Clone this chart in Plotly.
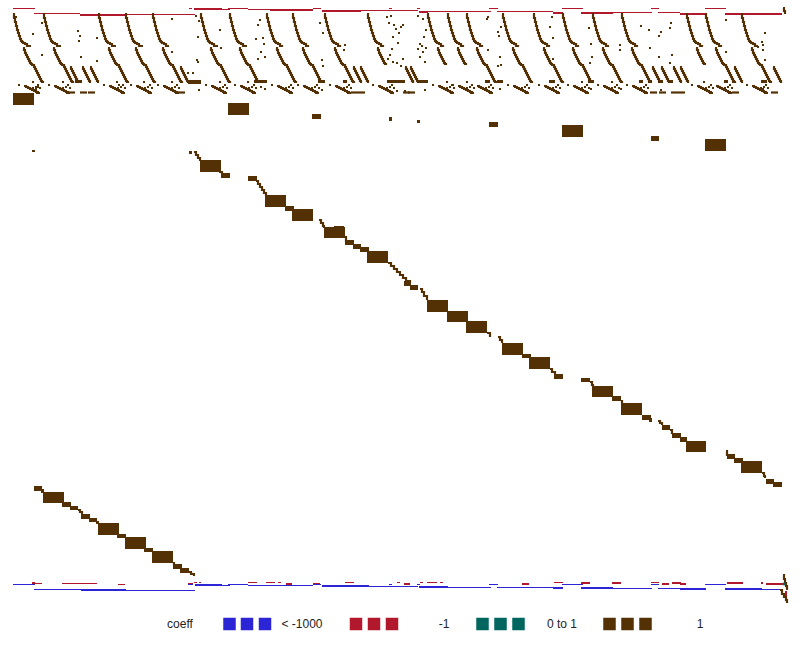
import plotly.graph_objects as go

BROWN = "#543005"
RED = "#B2182B"
TEAL = "#01665E"
BLUE = "#2B25D6"

# red and blue coefficient runs: start col, end col, row, thickness
red_x0 = [13, 34, 80, 126, 189, 194, 222, 228, 248, 270, 313, 322, 361, 389, 417, 419, 428, 489, 497, 553, 562, 581, 613, 651, 658, 680, 705, 725, 762,
          32, 34, 62, 118, 188, 194, 199, 248, 266, 278, 286, 313, 345, 397, 404, 420, 427, 440, 522, 554, 581, 612, 651, 662, 672, 680, 727, 761, 766, 773, 785]
red_x1 = [35, 80, 126, 195, 192, 222, 230, 248, 270, 313, 321, 361, 418, 392, 420, 428, 491, 498, 553, 563, 583, 613, 652, 659, 680, 706, 726, 762, 782,
          35, 42, 97, 125, 193, 197, 201, 257, 275, 281, 292, 320, 354, 400, 410, 423, 437, 443, 529, 563, 590, 621, 659, 669, 681, 686, 743, 763, 773, 783, 787]
red_y = [8, 13, 13.5, 14, 8, 8, 9, 8, 9, 9.5, 8, 9.5, 10, 8, 8, 10.5, 11, 8, 11, 11.5, 8, 11.5, 12, 8, 12, 12.5, 8, 12.5, 13.5,
         581.5, 583, 583, 584, 583, 582, 582, 582, 582, 582, 583, 583, 582, 582, 583, 582, 582, 582, 583, 582, 582, 582, 582, 583, 582, 583, 582, 582, 583, 583.5, 591]
red_h = [1, 1, 2, 1, 1, 2, 1, 1, 1, 1, 1, 2, 1, 1, 1, 2, 1, 1, 1, 2, 1, 2, 1, 1, 1, 2, 1, 2, 1,
         2, 1, 1, 1, 1, 1, 1, 1, 1, 1, 2, 1, 1, 1, 2, 1, 1, 1, 2, 1, 2, 2, 1, 2, 2, 2, 2, 2, 2, 1, 6]

blue_x0 = [13, 34, 81, 126, 188, 195, 222, 228, 248, 313, 322, 369, 389, 417, 419, 448, 489, 497, 553, 562, 581, 613, 651, 658, 680, 705, 725, 762]
blue_x1 = [35, 81, 126, 195, 193, 222, 230, 248, 313, 321, 369, 418, 392, 420, 448, 491, 498, 553, 563, 583, 613, 652, 659, 680, 706, 726, 762, 782]
blue_y = [584, 589, 589, 590, 584, 584, 585, 584, 585, 584, 585, 586, 584, 584, 586, 587, 584, 587, 587, 584, 587, 588, 584, 588, 588, 584, 588, 589]
blue_h = [1, 1, 2, 1, 1, 2, 1, 1, 1, 1, 2, 1, 1, 1, 2, 1, 1, 1, 2, 1, 2, 1, 1, 1, 2, 1, 2, 1]

# solid blocks of ones
block_x0 = [13, 228, 312, 389, 417, 489, 562, 651, 705, 32, 189,
            200, 221, 248, 265, 285, 292, 324, 334, 345, 353, 360, 367, 404, 410,
            427, 447, 466, 502, 522, 529, 554, 581, 592, 612, 621, 642, 649,
            662, 672, 680, 686, 727, 734, 741, 766, 773,
            34, 41, 43, 62, 70, 81, 89, 96, 98, 117, 125, 144, 152, 173, 180,
            188, 75, 254, 318, 343, 387, 417, 485, 497, 549, 588, 639, 648, 658, 669, 724, 761]
block_x1 = [34, 249, 321, 392, 420, 498, 583, 659, 726, 35, 192,
            221, 230, 257, 286, 294, 313, 345, 344, 354, 361, 369, 388, 411, 418,
            448, 468, 487, 523, 531, 550, 563, 590, 613, 621, 642, 651, 652,
            670, 681, 687, 706, 735, 743, 762, 774, 782,
            42, 44, 64, 71, 78, 90, 97, 99, 119, 126, 146, 153, 173, 182, 189,
            201, 82, 267, 325, 347, 405, 428, 490, 503, 555, 594, 643, 652, 663, 673, 728, 767]
block_y0 = [93, 103, 114, 117, 120, 122, 125, 136, 139, 150, 151,
            160, 173, 176, 195, 206, 209, 227, 226, 240, 244, 247, 251, 281, 285,
            300, 311, 321, 343, 354, 357, 374, 378, 386, 396, 403, 415, 418,
            425, 433, 437, 441, 454, 458, 461, 479, 482,
            486, 489, 492, 502, 506, 514, 518, 521, 523, 534, 537, 548, 551, 564, 568,
            80, 80, 80, 80, 80, 80, 80, 80, 80, 80, 80, 80, 80, 80, 80, 80, 80]
block_y1 = [105, 115, 119, 121, 123, 127, 137, 141, 151, 152, 154,
            172, 178, 181, 207, 211, 221, 238, 228, 245, 249, 252, 263, 286, 290,
            312, 322, 333, 355, 358, 369, 379, 382, 397, 401, 415, 420, 422,
            430, 438, 442, 452, 459, 463, 473, 484, 487,
            491, 493, 503, 507, 510, 519, 522, 524, 535, 538, 549, 552, 563, 569, 573,
            84, 83, 83, 83, 83, 83, 83, 83, 83, 83, 83, 83, 83, 83, 83, 83, 83]

# short chains between the blocks, stepped
chain_x = [[194, 196, 198, 200], [219, 222], [256, 258, 260, 262, 264, 266], [319, 321, 323, 324], [344, 346],
           [388, 391, 394, 397, 400, 403, 406, 410], [420, 422, 424, 427], [487, 490], [498, 500, 502],
           [550, 552, 555], [590, 592, 593], [621, 622], [658, 660, 662], [670, 672], [726, 727], [762, 764, 765],
           [78, 80, 82], [173, 174], [189, 191, 194], [783, 784, 785], [783, 784, 785, 786, 787], [780, 782, 784, 786, 787]]
chain_y = [[152, 155, 158, 161], [172, 174], [181, 184, 187, 190, 193, 196], [220, 223, 226, 228], [237, 242],
           [263, 266, 269, 272, 275, 278, 281, 283], [289, 292, 296, 300], [333, 337], [337, 340, 343],
           [369, 372, 374], [382, 385, 387], [401, 403], [421, 423, 425], [430, 434], [451, 456], [473, 476, 478],
           [510, 512, 514], [563, 566], [572, 574, 576], [8, 11, 14], [575, 579, 583, 586, 590], [590, 594, 597, 600, 603]]

# the repeating columns in the top band
motif_cols = [13, 43, 98, 125, 152, 200, 229, 266, 292, 324, 367, 427, 447, 466, 502, 533, 562, 592, 621, 686, 705, 741]
short_motifs = [367, 427, 447, 686]
extra_legs = [70, 82, 90, 180, 353, 360, 405, 410, 652, 661, 673, 680, 734, 773]
upper_dx = [0, 1, 2, 3, 4, 5, 6, 7, 8, 9, 10, 12, 14, 16]
upper_y = [14, 18, 22, 26, 30, 33, 36, 39, 41, 42, 43, 44, 46, 47]
lower_dx = [10, 11, 12, 13, 14, 15, 16, 17, 18, 19, 21, 22, 23, 24, 25, 26, 27, 28, 29, 30]
lower_y = [48, 50, 53, 55, 57, 59, 61, 63, 64, 65, 67, 69, 71, 73, 75, 77, 79, 81, 82, 83]
leg_dx = [0, 1, 2, 3, 4, 5, 6, 7, 8]
leg_y = [67, 69, 71, 73, 75, 77, 79, 81, 83]
base_dx = [11, 13, 15, 17, 19, 21, 23, 25, 27]
base_y = [86, 87, 88, 89, 90, 91, 92, 93, 93]
small_dx = [6, 23, 25, 27, 20, 24]
small_y = [85, 87, 85, 88, 88, 93]

# scattered single entries in the top band
dot_x = [16, 33, 30, 42, 33, 42, 19, 38, 36, 42, 63, 60, 78, 80, 79, 97, 81, 97, 115, 117, 119, 142, 144, 172, 168, 172, 172, 197, 198, 198, 199, 196,
         188, 193, 199, 220, 217, 221, 220, 246, 248, 260, 258, 256, 263, 264, 261, 258, 265, 261, 265,
         320, 323, 345, 344, 322, 323, 322, 345, 387, 391, 389, 394, 403, 401, 396, 399, 393, 398, 392, 390, 388, 393, 397, 403, 401,
         418, 423, 426, 424, 420, 422, 418, 423, 426, 420, 425, 447, 467, 488, 487, 501, 498, 499, 488, 500, 501, 498, 500, 425, 397, 405,
         552, 550, 553, 553, 589, 591, 592, 590, 582, 591, 620, 620, 612, 649, 641, 671, 670, 661, 659, 650, 672, 659, 670, 726, 765, 762, 763, 763, 758, 726, 765, 704, 733, 621, 661, 763]
dot_y = [17, 34, 46, 55, 82, 82, 85, 87, 89, 23, 82, 46, 31, 36, 41, 38, 57, 61, 46, 82, 85, 46, 82, 19, 46, 52, 82, 60, 62, 37, 21, 16,
         73, 73, 90, 30, 46, 48, 82, 46, 82, 20, 25, 39, 38, 44, 52, 59, 57, 87, 89,
         23, 33, 45, 50, 60, 66, 90, 82, 17, 16, 23, 25, 25, 27, 29, 33, 37, 43, 49, 55, 59, 62, 63, 59, 66,
         16, 19, 30, 37, 44, 46, 49, 52, 48, 57, 62, 82, 82, 17, 19, 27, 32, 36, 50, 57, 65, 66, 89, 90, 91, 91,
         17, 27, 38, 59, 28, 44, 57, 63, 82, 89, 45, 50, 82, 30, 26, 23, 28, 32, 36, 48, 55, 57, 63, 20, 33, 42, 45, 50, 47, 52, 60, 82, 82, 89, 90, 89]

legend_labels = ["coeff", "< -1000", "-1", "0 to 1", "1"]
legend_label_x = [180, 302, 444, 562, 700]
legend_colors = [BLUE, RED, TEAL, BROWN]
legend_swatch_x = [[229.5, 247, 265], [356, 374, 392], [482.5, 500.5, 518.5], [609.5, 627.5, 645.5]]


def add_rects(fig, x0, x1, y0, y1, color):
    fig.add_trace(go.Bar(
        x=[(a + b) / 2 for a, b in zip(x0, x1)],
        width=[b - a for a, b in zip(x0, x1)],
        base=y0,
        y=[b - a for a, b in zip(y0, y1)],
        marker=dict(color=color, line=dict(width=0)),
    ))


def add_chain(fig, x, y):
    fig.add_trace(go.Scatter(x=x, y=y, mode="lines", line=dict(color=BROWN, width=2.2, shape="hv")))


def add_dots(fig, xs, ys):
    add_rects(fig, [x - 1.3 for x in xs], [x + 1.3 for x in xs],
              [y - 1.3 for y in ys], [y + 1.3 for y in ys], BROWN)


fig = go.Figure()
add_rects(fig, block_x0, block_x1, block_y0, block_y1, BROWN)
add_rects(fig, red_x0, red_x1, red_y, [a + b for a, b in zip(red_y, red_h)], RED)
add_rects(fig, blue_x0, blue_x1, blue_y, [a + b for a, b in zip(blue_y, blue_h)], BLUE)

for x, y in zip(chain_x, chain_y):
    add_chain(fig, x, y)

for col in motif_cols:
    add_chain(fig, [col + d for d in upper_dx], upper_y)
    if col in short_motifs:
        add_chain(fig, [col + d for d in lower_dx[:10]], lower_y[:10])
    else:
        add_chain(fig, [col + d for d in lower_dx], lower_y)
    add_chain(fig, [col + d for d in base_dx], base_y)
    add_dots(fig, [col + d for d in small_dx], small_y)

for col in extra_legs:
    add_chain(fig, [col + d for d in leg_dx], leg_y)
    add_chain(fig, [col - 2, col + 5], [92.5, 92.5])

add_dots(fig, dot_x, dot_y)
fig.add_trace(go.Scatter(x=[784], y=[584], mode="markers",
                         marker=dict(symbol="square", size=2.5, color=TEAL, line=dict(width=0))))

# legend row
for color, xs in zip(legend_colors, legend_swatch_x):
    fig.add_trace(go.Scatter(x=xs, y=[624] * len(xs), mode="markers",
                             marker=dict(symbol="square", size=12.5, color=color, line=dict(width=0))))
fig.add_trace(go.Scatter(x=legend_label_x, y=[625] * len(legend_labels), mode="text", text=legend_labels,
                         textposition="middle center",
                         textfont=dict(family="Liberation Sans", size=12, color="#222222")))

fig.update_layout(
    width=806, height=648,
    margin=dict(l=0, r=0, t=0, b=0),
    paper_bgcolor="white", plot_bgcolor="white",
    showlegend=False, barmode="overlay", bargap=0,
    hovermode=False,
    xaxis=dict(range=[0, 806], visible=False, fixedrange=True),
    yaxis=dict(range=[648, 0], visible=False, fixedrange=True),
)
fig.write_html("out.html", config={"displayModeBar": False},
               post_script="document.body.style.margin='0';")
